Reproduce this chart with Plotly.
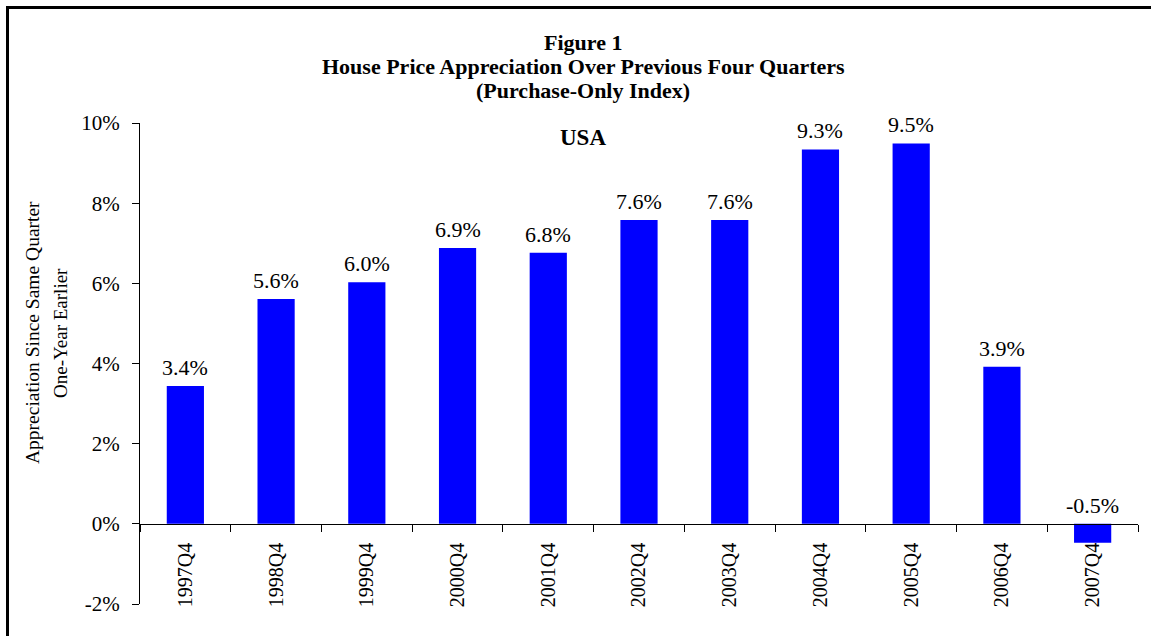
import plotly.graph_objects as go

categories = ["1997Q4", "1998Q4", "1999Q4", "2000Q4", "2001Q4", "2002Q4",
              "2003Q4", "2004Q4", "2005Q4", "2006Q4", "2007Q4"]
appreciation = [3.44, 5.61, 6.03, 6.88, 6.76, 7.58, 7.58, 9.34, 9.49, 3.92, -0.47]
tick_vals = [-2, 0, 2, 4, 6, 8, 10]
tick_text = ["-2%", "0%", "2%", "4%", "6%", "8%", "10%"]

FONT = "Liberation Serif, Times New Roman, serif"
W, H = 1151, 636
ML, MT = 140, 123
MR = W - 1138
MB = H - 604
PW, PH = W - ML - MR, H - MT - MB


def px_x(p):
    return (p - ML) / PW


def px_y(p):
    return (H - MB - p) / PH


fig = go.Figure()
fig.add_trace(go.Bar(x=categories, y=appreciation, marker=dict(color="#0000FF", line=dict(width=0)),
                     hoverinfo="x+y"))

annotations = []
for c, v in zip(categories, appreciation):
    annotations.append(dict(x=c, y=max(v, 0), xref="x", yref="y", text=f"{v:.1f}%",
                            showarrow=False, yanchor="bottom", yshift=4,
                            font=dict(family=FONT, size=22, color="black")))

title_lines = ["<b>Figure 1</b>", "<b>House Price Appreciation Over Previous Four Quarters</b>",
               "<b>(Purchase-Only Index)</b>"]
title_y = [42, 66, 90]
for t, ty in zip(title_lines, title_y):
    annotations.append(dict(x=px_x(583), y=px_y(ty), xref="paper", yref="paper", text=t,
                            showarrow=False, xanchor="center", yanchor="middle",
                            font=dict(family=FONT, size=22, color="black")))
annotations.append(dict(x=px_x(583), y=px_y(137), xref="paper", yref="paper", text="<b>USA</b>",
                        showarrow=False, xanchor="center", yanchor="middle",
                        font=dict(family=FONT, size=23, color="black")))
annotations.append(dict(x=px_x(32), y=px_y(333), xref="paper", yref="paper",
                        text="Appreciation Since Same Quarter", textangle=-90,
                        showarrow=False, xanchor="center", yanchor="middle",
                        font=dict(family=FONT, size=19.5, color="black")))
annotations.append(dict(x=px_x(60), y=px_y(333), xref="paper", yref="paper",
                        text="One-Year Earlier", textangle=-90,
                        showarrow=False, xanchor="center", yanchor="middle",
                        font=dict(family=FONT, size=19, color="black")))

yr = [tick_vals[0], tick_vals[-1]]
zero_pos = (0 - yr[0]) / (yr[1] - yr[0])

border = dict(color="black", width=3)
fig.update_layout(
    width=W, height=H,
    margin=dict(l=ML, r=MR, t=MT, b=MB),
    paper_bgcolor="white", plot_bgcolor="white",
    showlegend=False,
    bargap=0.59,
    annotations=annotations,
    shapes=[dict(type="line", xref="paper", yref="paper",
                 x0=px_x(6), x1=px_x(1160), y0=px_y(7.5), y1=px_y(7.5), line=border, layer="above"),
            dict(type="line", xref="paper", yref="paper",
                 x0=px_x(7.5), x1=px_x(7.5), y0=px_y(6), y1=px_y(650), line=border, layer="above")],
    xaxis=dict(anchor="free", position=zero_pos, showline=True, linecolor="black", linewidth=1,
               ticks="outside", ticklen=7, tickcolor="black", tickson="boundaries",
               tickangle=-90, ticklabelstandoff=10, showgrid=False, zeroline=False,
               tickfont=dict(family=FONT, size=20, color="black")),
    yaxis=dict(range=yr, tickvals=tick_vals, ticktext=tick_text, showline=True,
               linecolor="black", linewidth=1, ticks="outside", ticklen=7, tickcolor="black",
               showgrid=False, zeroline=False, ticklabelstandoff=8,
               tickfont=dict(family=FONT, size=21, color="black")),
)

fig.write_html("out.html", config={"displayModeBar": False},
               post_script="document.body.style.margin='0';document.body.style.overflow='hidden';")
